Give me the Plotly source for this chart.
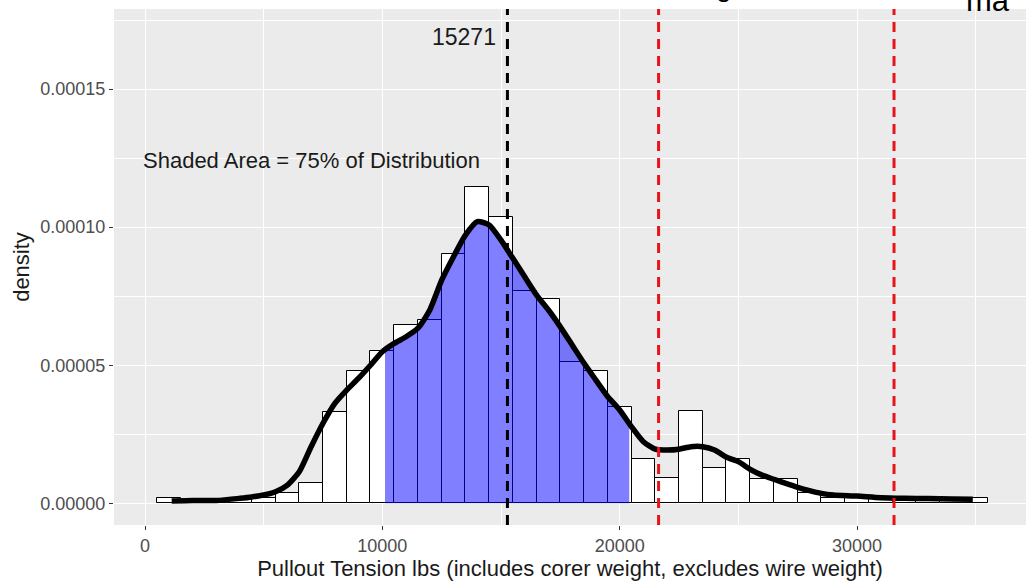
import plotly.graph_objects as go

# ---------------- data ----------------
bin_centers = [1000, 2000, 3000, 4000, 5000, 6000, 7000, 8000, 9000, 10000,
               11000, 12000, 13000, 14000, 15000, 16000, 17000, 18000, 19000, 20000,
               21000, 22000, 23000, 24000, 25000, 26000, 27000, 28000, 29000, 30000,
               31000, 32000, 33000, 34000, 35000]
bin_density_e5 = [0.18, 0.0, 0.0, 0.18, 0.18, 0.36, 0.72, 3.32, 4.80, 5.51,
                  6.46, 6.63, 9.03, 11.46, 10.36, 7.70, 7.39, 5.13, 4.80, 3.48,
                  1.61, 0.90, 3.33, 1.29, 1.60, 0.88, 0.88, 0.36, 0.18, 0.18,
                  0.18, 0.18, 0.18, 0.18, 0.18]
bin_width = 1000

curve_x = [1125, 2000, 3000, 4000, 4500, 5000, 5500, 6000, 6500, 7000, 7500, 8000,
           8500, 9000, 9500, 10000, 10500, 11000, 11500, 12000, 12500, 13000, 13500,
           14000, 14500, 15000, 15500, 16000, 16500, 17000, 17500, 18000, 18500,
           19000, 19500, 20000, 20500, 21000, 21500, 22000, 22500, 23000, 23500,
           24000, 24500, 25000, 25500, 26000, 26500, 27000, 27500, 28000, 28500,
           29000, 30000, 31000, 32000, 33000, 34000, 34880]
curve_density_e5 = [0.08, 0.10, 0.10, 0.18, 0.23, 0.30, 0.42, 0.66, 1.14, 2.05, 2.90, 3.62,
                    4.10, 4.53, 5.00, 5.49, 5.79, 6.03, 6.34, 7.00, 8.08, 8.93, 9.71,
                    10.20, 10.08, 9.53, 8.87, 8.20, 7.54, 7.00, 6.39, 5.73, 5.07,
                    4.46, 3.86, 3.38, 2.77, 2.23, 1.96, 1.93, 1.96, 2.05, 2.05,
                    1.93, 1.67, 1.51, 1.23, 1.02, 0.87, 0.72, 0.58, 0.46, 0.36,
                    0.30, 0.26, 0.20, 0.18, 0.17, 0.16, 0.15]

shade_low, shade_high = 10113, 20405
shade_low_density_e5, shade_high_density_e5 = 5.55, 2.75

center_line = 15271
red_lines = [21640, 31560]

x_ticks = [0, 10000, 20000, 30000]
x_tick_labels = ["0", "10000", "20000", "30000"]
y_ticks = [0, 0.00005, 0.0001, 0.00015]
y_tick_labels = ["0.00000", "0.00005", "0.00010", "0.00015"]

shaded_label = "Shaded Area = 75% of Distribution"
x_title = "Pullout Tension lbs (includes corer weight, excludes wire weight)"
y_title = "density"

# ---------------- build figure ----------------
FONT = "Liberation Sans, Arial, sans-serif"
bin_density = [v * 1e-5 for v in bin_density_e5]
curve_density = [v * 1e-5 for v in curve_density_e5]

sx = [shade_low] + [x for x in curve_x if shade_low < x < shade_high] + [shade_high]
sy = [shade_low_density_e5 * 1e-5] + \
     [y for x, y in zip(curve_x, curve_density) if shade_low < x < shade_high] + \
     [shade_high_density_e5 * 1e-5]

fig = go.Figure()
fig.add_trace(go.Bar(
    x=bin_centers, y=bin_density, width=[bin_width] * len(bin_centers),
    marker=dict(color="white", line=dict(color="black", width=1)),
    hoverinfo="skip"))
fig.add_trace(go.Scatter(
    x=sx, y=sy, mode="lines", line=dict(width=0, shape="spline", smoothing=0.6),
    fill="tozeroy", fillcolor="rgba(0,0,255,0.5)", hoverinfo="skip"))
fig.add_trace(go.Scatter(
    x=curve_x, y=curve_density, mode="lines",
    line=dict(color="black", width=5.5, shape="spline", smoothing=0.6),
    hoverinfo="skip"))

dash = "10px,7px"
fig.add_shape(type="line", xref="x", yref="paper", x0=center_line, x1=center_line,
              y0=0, y1=1, line=dict(color="black", width=3, dash=dash), layer="above")
for rx in red_lines:
    fig.add_shape(type="line", xref="x", yref="paper", x0=rx, x1=rx,
                  y0=0, y1=1, line=dict(color="#E8141B", width=3, dash=dash), layer="above")

fig.add_annotation(x=center_line, y=0.0001689, text=str(center_line), showarrow=False,
                   xanchor="right", yanchor="middle", xshift=-9,
                   font=dict(family=FONT, size=23, color="#1A1A1A"))
fig.add_annotation(x=7000, y=0.0001243, text=shaded_label, showarrow=False,
                   xanchor="center", yanchor="middle",
                   font=dict(family=FONT, size=22, color="#1A1A1A"))
# partially cut-off title text at the very top of the image
fig.add_annotation(xref="paper", yref="paper", x=(964 - 114) / 912, y=1 - (20 - 9) / 516,
                   text="ma", showarrow=False, xanchor="left", yanchor="bottom",
                   font=dict(family=FONT, size=31, color="black"))
fig.add_annotation(xref="paper", yref="paper", x=(714 - 114) / 912, y=1 - (4 - 9) / 516,
                   text="g", showarrow=False, xanchor="left", yanchor="bottom",
                   font=dict(family=FONT, size=28, color="black"))

fig.update_layout(
    width=1026, height=586,
    margin=dict(l=114, r=0, t=9, b=61, autoexpand=False),
    paper_bgcolor="white", plot_bgcolor="#EBEBEB",
    showlegend=False, bargap=0,
    font=dict(family=FONT),
)
fig.update_xaxes(
    range=[-1306, 37121], tickmode="array", tickvals=x_ticks, ticktext=x_tick_labels,
    showgrid=True, gridcolor="white", gridwidth=1.3, zeroline=False, showline=False,
    ticks="outside", ticklen=4, tickwidth=1, tickcolor="#333333", automargin=False,
    tickfont=dict(family=FONT, size=18, color="#4D4D4D"),
    minor=dict(tickvals=[5000, 15000, 25000, 35000], showgrid=True,
               gridcolor="white", gridwidth=0.6, ticks=""),
    title=dict(text=x_title, font=dict(family=FONT, size=22, color="#1A1A1A"), standoff=6),
)
fig.update_yaxes(
    range=[-0.00000786, 0.000179], tickmode="array", tickvals=y_ticks, ticktext=y_tick_labels,
    showgrid=True, gridcolor="white", gridwidth=1.3, zeroline=False, showline=False,
    ticks="outside", ticklen=4, tickwidth=1, tickcolor="#333333", automargin=False,
    tickfont=dict(family=FONT, size=18, color="#4D4D4D"),
    minor=dict(tickvals=[0.000025, 0.000075, 0.000125, 0.000175], showgrid=True,
               gridcolor="white", gridwidth=0.6, ticks=""),
    title=dict(text=y_title, font=dict(family=FONT, size=22, color="#1A1A1A"), standoff=4),
)

fig.write_html("out.html", config={"displayModeBar": False},
               post_script="document.body.style.margin='0';document.body.style.padding='0';")
